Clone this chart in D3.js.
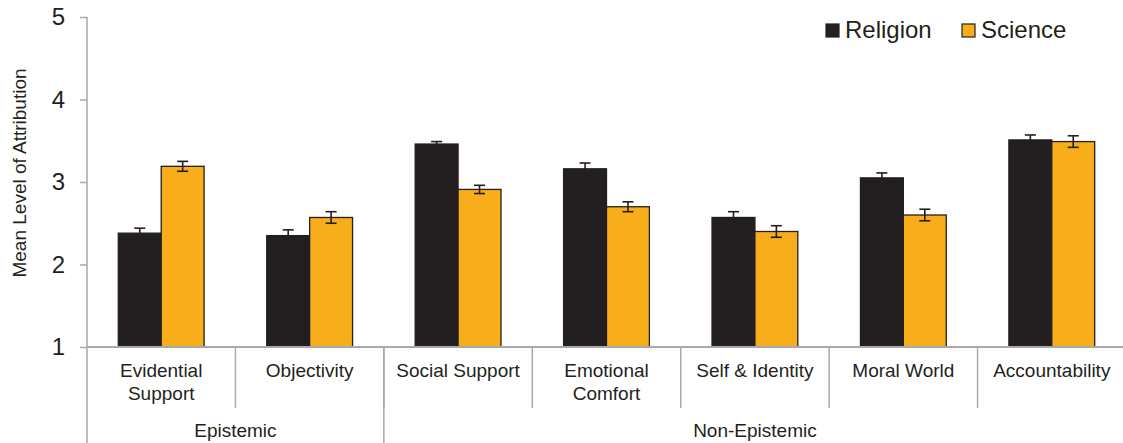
<!DOCTYPE html>
<html>
<head>
<meta charset="utf-8">
<script src="https://cdn.jsdelivr.net/npm/d3@7/dist/d3.min.js"></script>
<style>
  html, body { margin: 0; padding: 0; background: #fff; }
  svg { display: block; font-family: "Liberation Sans", Arial, sans-serif; }
</style>
</head>
<body>
<svg id="chart" width="1123" height="443"></svg>
<script>
// Attribution categories, grouped into epistemic / non-epistemic
const categories = [
  ["Evidential", "Support"],
  ["Objectivity"],
  ["Social Support"],
  ["Emotional", "Comfort"],
  ["Self & Identity"],
  ["Moral World"],
  ["Accountability"]
];
const groups = ["Epistemic", "Non-Epistemic"];
const groupSizes = [2, 5];
const seriesNames = ["Religion", "Science"];
const religionValues = [2.38, 2.35, 3.46, 3.16, 2.57, 3.05, 3.51];
const scienceValues  = [3.19, 2.57, 2.91, 2.70, 2.40, 2.60, 3.49];
const religionErr = [0.06, 0.07, 0.03, 0.07, 0.07, 0.06, 0.06];
const scienceErr  = [0.06, 0.07, 0.05, 0.06, 0.07, 0.07, 0.07];
const yTicks = [1, 2, 3, 4, 5];

const colors = { Religion: "#231f20", Science: "#f8ae1a" };
const ink = "#231f20";
const axisGray = "#a7a9ac";

const svg = d3.select("#chart");
const plotLeft = 87, plotRight = 1126, plotTop = 17, baseY = 347;

const catKeys = categories.map((c, i) => i);
const x0 = d3.scaleBand().domain(catKeys).range([plotLeft, plotRight]).padding(0);
const x1 = d3.scaleBand().domain(seriesNames).range([0, x0.bandwidth()]).paddingOuter(0.73).paddingInner(0);
const y = d3.scaleLinear().domain([1, 5]).range([baseY, plotTop]);

const rows = catKeys.map(i => ({
  i,
  vals: [
    { s: "Religion", v: religionValues[i], e: religionErr[i] },
    { s: "Science",  v: scienceValues[i],  e: scienceErr[i] }
  ]
}));

// Y axis
const yAxis = d3.axisLeft(y).tickValues(yTicks).tickSize(7).tickPadding(15).tickFormat(d3.format("d"));
const gy = svg.append("g").attr("transform", `translate(${plotLeft},0)`).call(yAxis);
gy.select(".domain").remove();
gy.selectAll(".tick line").attr("stroke", axisGray).attr("stroke-width", 1.5);
gy.selectAll(".tick text").attr("fill", ink).attr("font-size", 24)
  .attr("font-family", "'Liberation Sans', Arial, sans-serif");
svg.append("line").attr("x1", plotLeft).attr("x2", plotLeft).attr("y1", plotTop).attr("y2", 443)
  .attr("stroke", axisGray).attr("stroke-width", 1.5);

// Y title
svg.append("text")
  .attr("transform", `translate(26,173) rotate(-90)`)
  .attr("text-anchor", "middle")
  .attr("font-size", 19).attr("fill", ink)
  .text("Mean Level of Attribution");

// Bars
const gBars = svg.append("g");
const cat = gBars.selectAll("g.cat").data(rows).join("g")
  .attr("class", "cat")
  .attr("transform", d => `translate(${x0(d.i)},0)`);

cat.selectAll("rect").data(d => d.vals).join("rect")
  .attr("x", d => x1(d.s))
  .attr("y", d => y(d.v))
  .attr("width", x1.bandwidth())
  .attr("height", d => y(1) - y(d.v))
  .attr("fill", d => colors[d.s])
  .attr("stroke", ink).attr("stroke-width", 1.3);

// Error bars
const capW = 11;
const eb = cat.selectAll("g.err").data(d => d.vals).join("g").attr("class", "err")
  .attr("stroke", ink).attr("stroke-width", 1.6);
eb.append("line")
  .attr("x1", d => x1(d.s) + x1.bandwidth() / 2).attr("x2", d => x1(d.s) + x1.bandwidth() / 2)
  .attr("y1", d => y(d.v + d.e)).attr("y2", d => y(d.v - d.e));
eb.append("line")
  .attr("x1", d => x1(d.s) + x1.bandwidth() / 2 - capW / 2).attr("x2", d => x1(d.s) + x1.bandwidth() / 2 + capW / 2)
  .attr("y1", d => y(d.v + d.e)).attr("y2", d => y(d.v + d.e));
eb.append("line")
  .attr("x1", d => x1(d.s) + x1.bandwidth() / 2 - capW / 2).attr("x2", d => x1(d.s) + x1.bandwidth() / 2 + capW / 2)
  .attr("y1", d => y(d.v - d.e)).attr("y2", d => y(d.v - d.e));

// X axis baseline
svg.append("line").attr("x1", plotLeft).attr("x2", plotRight).attr("y1", baseY).attr("y2", baseY)
  .attr("stroke", axisGray).attr("stroke-width", 1.8);

// Category separators (short) and labels
catKeys.slice(1).forEach(i => {
  svg.append("line").attr("x1", x0(i)).attr("x2", x0(i)).attr("y1", baseY).attr("y2", 408)
    .attr("stroke", axisGray).attr("stroke-width", 1.5);
});
const labels = svg.append("g").attr("font-size", 19).attr("fill", ink).attr("text-anchor", "middle");
categories.forEach((lines, i) => {
  const t = labels.append("text").attr("x", x0(i) + x0.bandwidth() / 2).attr("y", 377);
  lines.forEach((ln, k) => {
    t.append("tspan").attr("x", x0(i) + x0.bandwidth() / 2).attr("dy", k === 0 ? 0 : 23).text(ln);
  });
});

// Group separators and group labels
let start = 0;
groups.forEach((g, gi) => {
  const end = start + groupSizes[gi];
  const gx0 = x0(start);
  const gx1 = end < categories.length ? x0(end) : plotRight;
  if (end < categories.length) {
    svg.append("line").attr("x1", gx1).attr("x2", gx1).attr("y1", baseY).attr("y2", 443)
      .attr("stroke", axisGray).attr("stroke-width", 1.5);
  }
  svg.append("text").attr("x", (gx0 + gx1) / 2).attr("y", 437)
    .attr("text-anchor", "middle").attr("font-size", 19).attr("fill", ink).text(g);
  start = end;
});

// Legend
const legendPos = [{ x: 826, tx: 845 }, { x: 962, tx: 981 }];
const lg = svg.append("g");
seriesNames.forEach((s, i) => {
  lg.append("rect").attr("x", legendPos[i].x).attr("y", 24).attr("width", 13).attr("height", 13)
    .attr("fill", colors[s]).attr("stroke", ink).attr("stroke-width", 1.2);
  lg.append("text").attr("x", legendPos[i].tx).attr("y", 38).attr("font-size", 24)
    .attr("fill", ink).text(s);
});
</script>
</body>
</html>
